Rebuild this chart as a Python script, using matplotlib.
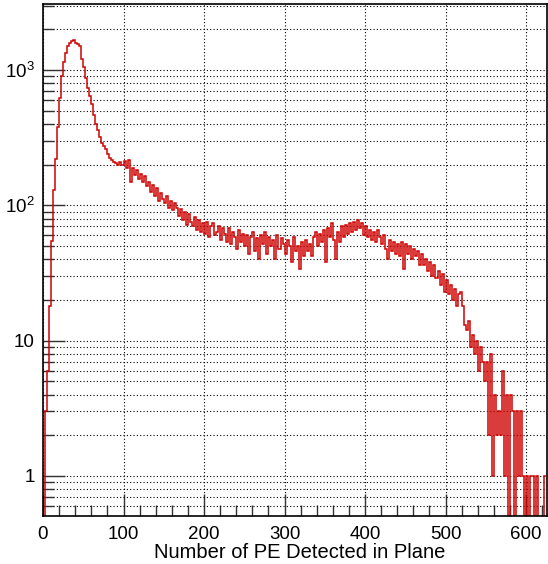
import numpy as np
import matplotlib
matplotlib.use('Agg')
import matplotlib.pyplot as plt
from matplotlib.ticker import MultipleLocator, LogLocator, FixedLocator, FixedFormatter

plt.rcParams['font.family'] = ['Liberation Sans', 'DejaVu Sans']

# histogram: 250 bins of 2.5 PE from 0 to 625
bin_lo, bin_hi = 0.0, 625.0
counts = [
    0, 3, 6, 18, 55, 130, 220, 380, 620, 900,
    1150, 1350, 1500, 1580, 1640, 1660, 1600, 1560, 1500, 1200,
    1050, 880, 740, 640, 560, 470, 400, 360, 320, 290,
    275, 260, 240, 225, 215, 210, 205, 198, 208, 200,
    212, 190, 218, 150, 190, 168, 182, 158, 172, 150,
    165, 140, 150, 126, 142, 118, 135, 108, 124, 112,
    104, 118, 96, 108, 92, 104, 96, 84, 94, 78,
    90, 72, 86, 76, 70, 82, 66, 78, 64, 74,
    62, 76, 58, 70, 74, 60, 64, 70, 56, 68,
    62, 54, 68, 52, 64, 58, 48, 66, 54, 62,
    50, 60, 44, 58, 64, 46, 57, 40, 60, 52,
    64, 44, 58, 50, 56, 40, 60, 48, 57, 52,
    44, 56, 50, 38, 58, 46, 50, 34, 54, 42,
    56, 46, 52, 42, 58, 64, 50, 62, 54, 66,
    38, 68, 58, 74, 56, 40, 64, 54, 70, 58,
    72, 62, 74, 64, 76, 66, 78, 68, 74, 60,
    70, 58, 66, 56, 64, 54, 66, 58, 52, 60,
    48, 40, 56, 46, 54, 44, 52, 42, 54, 34,
    52, 44, 50, 40, 48, 42, 46, 36, 44, 36,
    40, 33, 38, 30, 36, 29, 33, 26, 31, 23,
    28, 22, 26, 20, 24, 18, 22, 23, 18, 13,
    12, 14, 9, 11, 8, 10, 6, 9, 7, 5,
    7, 2, 8, 1, 4, 2, 3, 2, 6, 1,
    4, 0, 4, 3, 0, 3, 1, 3, 1, 0,
    1, 0, 1, 1, 0, 1, 0, 0, 0, 1,
]
x_ticks = [0, 100, 200, 300, 400, 500, 600]
y_ticks = [1, 10, 100, 1000]
y_labels = ['1', '10', r'$\mathregular{10^{2}}$', r'$\mathregular{10^{3}}$']
xlabel = 'Number of PE Detected in Plane'

counts = np.array(counts, dtype=float)
edges = np.linspace(bin_lo, bin_hi, len(counts) + 1)
vals = np.where(counts > 0, counts, 1e-3)

fig = plt.figure(figsize=(5.48, 5.64), dpi=100)
ax = fig.add_axes([43 / 548, 48 / 564, 504 / 548, 512 / 564])

ax.stairs(vals, edges, color='#d00000', lw=1.1, baseline=None)

ax.set_yscale('log')
ax.set_xlim(0, 626)
ax.set_ylim(0.506, 3085)

ax.xaxis.set_major_locator(FixedLocator(x_ticks))
ax.xaxis.set_minor_locator(MultipleLocator(20))
ax.yaxis.set_major_locator(FixedLocator(y_ticks))
ax.yaxis.set_major_formatter(FixedFormatter(y_labels))
ax.yaxis.set_minor_locator(LogLocator(base=10, subs=np.arange(2, 10)))
ax.yaxis.set_minor_formatter(plt.NullFormatter())

ax.tick_params(which='both', direction='in', top=False, right=False, width=1, color='#333333')
ax.tick_params(which='major', length=16, labelsize=13.5, pad=6)
ax.tick_params(axis='x', which='major', pad=7)
ax.tick_params(which='minor', length=8)

grid_style = dict(color='black', linestyle=(0, (1, 2)), linewidth=0.8)
ax.grid(True, axis='x', which='major', **grid_style)
ax.grid(True, axis='y', which='both', **grid_style)
ax.set_axisbelow(True)

for sp in ax.spines.values():
    sp.set_linewidth(1.2)

fig.text(445 / 548, 6 / 564, xlabel, ha='right', va='baseline', fontsize=14.5)

fig.savefig('out.png', dpi=100)
